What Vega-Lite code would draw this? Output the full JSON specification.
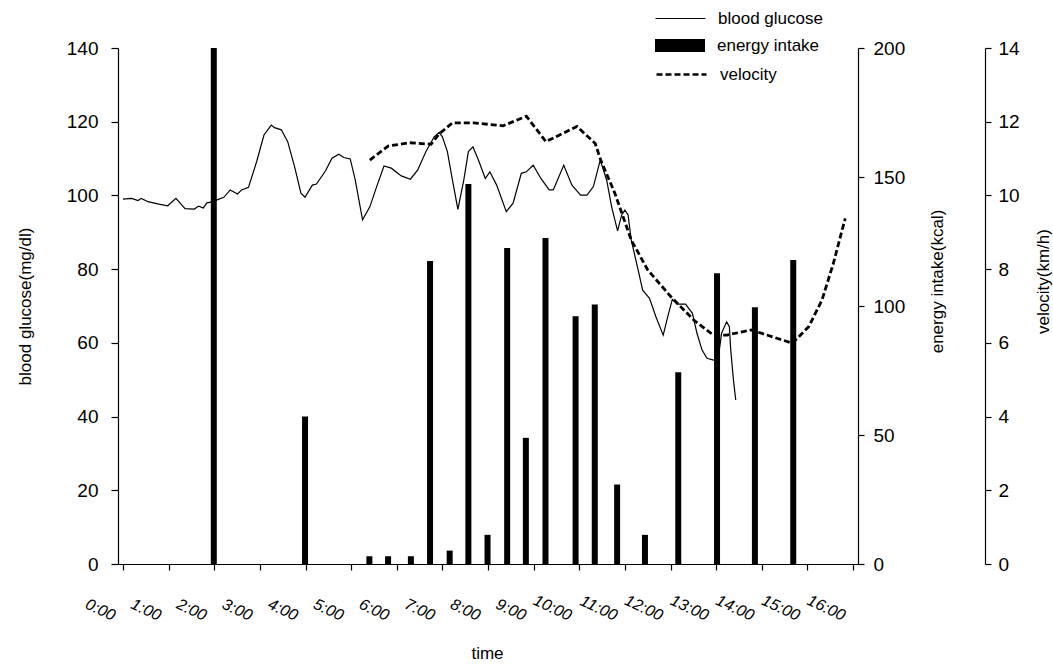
{
  "$schema": "https://vega.github.io/schema/vega-lite/v6.json",
  "width": 740,
  "height": 516,
  "autosize": {"type": "none"},
  "padding": {"left": 118, "top": 48, "right": 195, "bottom": 100},
  "background": "white",
  "config": {
    "view": {"stroke": null},
    "font": "Liberation Sans",
    "axis": {"grid": false, "domainColor": "black", "tickColor": "black", "labelColor": "black", "titleColor": "black", "labelFont": "Liberation Sans", "titleFont": "Liberation Sans", "titleFontWeight": "normal", "labelFontSize": 19, "titleFontSize": 17, "tickSize": 6, "domainWidth": 1.2, "tickWidth": 1.2},
    "legend": {"labelFont": "Liberation Sans", "labelFontSize": 17, "labelColor": "black", "padding": 0, "orient": "none", "title": null}
  },
  "datasets": {
    "glucose": [
      {"t": 0.00, "v": 99.0}, {"t": 0.19, "v": 99.2}, {"t": 0.33, "v": 98.6}, {"t": 0.40, "v": 99.2}, {"t": 0.55, "v": 98.3},
      {"t": 0.76, "v": 97.7}, {"t": 0.98, "v": 97.2}, {"t": 1.16, "v": 99.2}, {"t": 1.36, "v": 96.4}, {"t": 1.56, "v": 96.3},
      {"t": 1.66, "v": 97.1}, {"t": 1.76, "v": 96.6}, {"t": 1.84, "v": 98.0}, {"t": 1.99, "v": 98.3}, {"t": 2.06, "v": 98.8},
      {"t": 2.21, "v": 99.5}, {"t": 2.35, "v": 101.5}, {"t": 2.51, "v": 100.4}, {"t": 2.60, "v": 101.5}, {"t": 2.75, "v": 102.2},
      {"t": 2.93, "v": 109.2}, {"t": 3.09, "v": 116.4}, {"t": 3.25, "v": 119.1}, {"t": 3.32, "v": 118.4}, {"t": 3.47, "v": 117.8},
      {"t": 3.61, "v": 114.6}, {"t": 3.76, "v": 107.8}, {"t": 3.90, "v": 100.6}, {"t": 3.99, "v": 99.5}, {"t": 4.15, "v": 102.8},
      {"t": 4.24, "v": 103.1}, {"t": 4.44, "v": 106.7}, {"t": 4.58, "v": 110.1}, {"t": 4.73, "v": 111.2}, {"t": 4.84, "v": 110.3},
      {"t": 4.98, "v": 109.9}, {"t": 5.09, "v": 104.2}, {"t": 5.25, "v": 93.4}, {"t": 5.41, "v": 96.9}, {"t": 5.56, "v": 102.4},
      {"t": 5.72, "v": 108.0}, {"t": 5.88, "v": 107.4}, {"t": 6.10, "v": 105.3}, {"t": 6.30, "v": 104.4}, {"t": 6.46, "v": 106.9},
      {"t": 6.64, "v": 111.9}, {"t": 6.82, "v": 115.9}, {"t": 6.93, "v": 117.1}, {"t": 7.00, "v": 115.9}, {"t": 7.11, "v": 111.9},
      {"t": 7.22, "v": 104.2}, {"t": 7.34, "v": 96.2}, {"t": 7.47, "v": 104.2}, {"t": 7.57, "v": 111.9}, {"t": 7.67, "v": 113.2},
      {"t": 7.79, "v": 109.6}, {"t": 7.94, "v": 104.6}, {"t": 8.04, "v": 106.4}, {"t": 8.19, "v": 102.8}, {"t": 8.40, "v": 95.6},
      {"t": 8.55, "v": 97.9}, {"t": 8.73, "v": 106.0}, {"t": 8.84, "v": 106.4}, {"t": 8.99, "v": 108.2}, {"t": 9.16, "v": 104.6},
      {"t": 9.34, "v": 101.5}, {"t": 9.43, "v": 101.5}, {"t": 9.66, "v": 108.2}, {"t": 9.84, "v": 102.8}, {"t": 10.03, "v": 100.1},
      {"t": 10.17, "v": 100.1}, {"t": 10.31, "v": 102.4}, {"t": 10.46, "v": 109.6}, {"t": 10.60, "v": 104.2}, {"t": 10.71, "v": 96.9},
      {"t": 10.84, "v": 90.4}, {"t": 10.93, "v": 94.7}, {"t": 11.00, "v": 96.0}, {"t": 11.07, "v": 94.7}, {"t": 11.14, "v": 87.9},
      {"t": 11.29, "v": 79.8}, {"t": 11.39, "v": 74.3}, {"t": 11.54, "v": 72.1}, {"t": 11.68, "v": 67.1}, {"t": 11.84, "v": 62.1},
      {"t": 11.94, "v": 67.1}, {"t": 12.04, "v": 71.8}, {"t": 12.15, "v": 70.5}, {"t": 12.33, "v": 70.5}, {"t": 12.48, "v": 68.0},
      {"t": 12.58, "v": 62.6}, {"t": 12.69, "v": 58.1}, {"t": 12.80, "v": 55.8}, {"t": 12.94, "v": 55.3}, {"t": 13.05, "v": 56.2},
      {"t": 13.12, "v": 62.6}, {"t": 13.23, "v": 65.7}, {"t": 13.29, "v": 64.4}, {"t": 13.32, "v": 58.1}, {"t": 13.38, "v": 49.9},
      {"t": 13.43, "v": 44.5}
    ],
    "energy": [
      {"t": 1.99, "e": 200}, {"t": 3.99, "e": 57.2}, {"t": 5.40, "e": 3}, {"t": 5.81, "e": 3}, {"t": 6.31, "e": 3},
      {"t": 6.73, "e": 117.4}, {"t": 7.16, "e": 5.2}, {"t": 7.57, "e": 147.3}, {"t": 7.99, "e": 11.3}, {"t": 8.42, "e": 122.5},
      {"t": 8.83, "e": 48.9}, {"t": 9.26, "e": 126.4}, {"t": 9.92, "e": 96.0}, {"t": 10.34, "e": 100.6}, {"t": 10.83, "e": 30.8},
      {"t": 11.44, "e": 11.3}, {"t": 12.17, "e": 74.3}, {"t": 13.02, "e": 112.7}, {"t": 13.85, "e": 99.5}, {"t": 14.69, "e": 117.8}
    ],
    "velocity": [
      {"t": 5.41, "s": 10.96}, {"t": 5.81, "s": 11.34}, {"t": 6.28, "s": 11.43}, {"t": 6.75, "s": 11.39}, {"t": 6.93, "s": 11.67},
      {"t": 7.22, "s": 11.97}, {"t": 7.68, "s": 11.97}, {"t": 8.33, "s": 11.89}, {"t": 8.84, "s": 12.15}, {"t": 9.27, "s": 11.46},
      {"t": 9.95, "s": 11.87}, {"t": 10.35, "s": 11.41}, {"t": 10.47, "s": 10.96}, {"t": 10.78, "s": 10.06}, {"t": 11.14, "s": 8.79},
      {"t": 11.50, "s": 7.98}, {"t": 12.01, "s": 7.25}, {"t": 12.51, "s": 6.62}, {"t": 12.94, "s": 6.21}, {"t": 13.23, "s": 6.21},
      {"t": 13.77, "s": 6.35}, {"t": 14.67, "s": 5.99}, {"t": 15.03, "s": 6.44}, {"t": 15.32, "s": 7.16}, {"t": 15.57, "s": 8.16},
      {"t": 15.83, "s": 9.38}
    ]
  },
  "encoding": {
    "x": {
      "field": "t", "type": "quantitative",
      "scale": {"domain": [0, 16], "nice": false, "zero": false},
      "axis": {
        "values": [0,1,2,3,4,5,6,7,8,9,10,11,12,13,14,15,16],
        "labelExpr": "datum.value + ':00'",
        "labelAngle": 25, "labelAlign": "right", "labelBaseline": "middle",
        "labelOffset": -9, "labelPadding": 46, "labelFontSize": 16, "labelFontStyle": "italic",
        "labelOverlap": false, "labelFlush": false, "labelBound": false,
        "title": "time", "titleX": 369, "titleY": 89, "titleBaseline": "middle", "titleAlign": "center"
      }
    }
  },
  "layer": [
    {
      "data": {"name": "glucose"},
      "mark": {"type": "line", "strokeWidth": 1.2, "interpolate": "linear"},
      "encoding": {
        "y": {
          "field": "v", "type": "quantitative",
          "scale": {"domain": [0, 140], "nice": false},
          "axis": {"orient": "left", "values": [0,20,40,60,80,100,120,140], "tickSize": 7, "labelPadding": 13,
                   "title": "blood glucose(mg/dl)", "titleAngle": 270, "titleX": -93, "titleY": 258, "titleAlign": "center", "titleBaseline": "middle"}
        },
        "color": {
          "datum": "blood glucose",
          "scale": {"range": ["black"]},
          "legend": {"legendX": 537, "legendY": -55, "symbolType": "stroke", "symbolSize": 2500, "symbolStrokeWidth": 1, "symbolStrokeColor": "black", "labelOffset": 12}
        }
      }
    },
    {
      "data": {"name": "energy"},
      "mark": {"type": "bar", "size": 6},
      "encoding": {
        "y": {
          "field": "e", "type": "quantitative",
          "scale": {"domain": [0, 200], "nice": false},
          "axis": {"orient": "right", "values": [0,50,100,150,200], "labelPadding": 9,
                   "title": "energy intake(kcal)", "titleAngle": 270, "titleX": 79, "titleY": 233, "titleAlign": "center", "titleBaseline": "middle"}
        },
        "fill": {
          "datum": "energy intake",
          "scale": {"range": ["black"]},
          "legend": {"legendX": 537, "legendY": -27.5, "symbolType": "M-1,-0.26H1V0.26H-1Z", "symbolSize": 2500, "symbolStrokeWidth": 0, "symbolFillColor": "black", "labelOffset": 12}
        }
      }
    },
    {
      "data": {"name": "velocity"},
      "mark": {"type": "line", "strokeWidth": 2.8, "color": "black"},
      "encoding": {
        "y": {
          "field": "s", "type": "quantitative",
          "scale": {"domain": [0, 14], "nice": false},
          "axis": {"orient": "right", "offset": 127, "values": [0,2,4,6,8,10,12,14], "labelPadding": 7,
                   "title": "velocity(km/h)", "titleAngle": 270, "titleX": 58, "titleY": 233, "titleAlign": "center", "titleBaseline": "middle"}
        },
        "strokeDash": {
          "datum": "velocity",
          "scale": {"range": [[6, 3]]},
          "legend": {"legendX": 537, "legendY": 0, "symbolType": "stroke", "symbolSize": 2500, "symbolStrokeWidth": 2.5, "symbolStrokeColor": "black", "labelOffset": 12}
        }
      }
    }
  ],
  "resolve": {"scale": {"y": "independent"}}
}
